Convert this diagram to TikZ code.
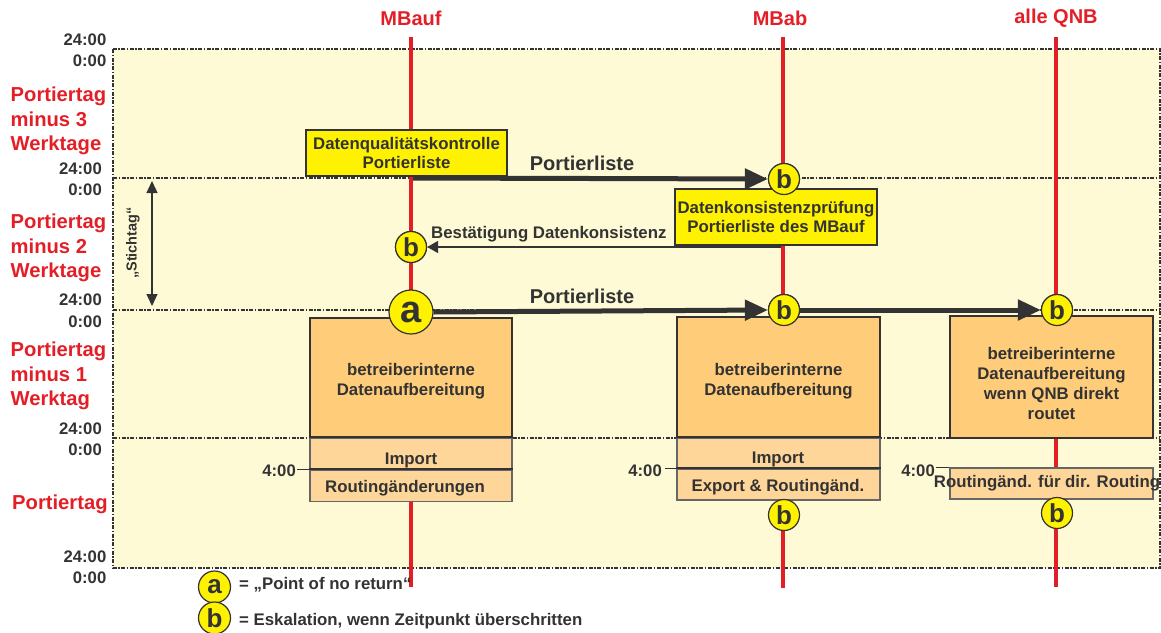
\documentclass[tikz,border=0pt]{standalone}
\usepackage{fontspec}
\setmainfont{Liberation Sans}
\usetikzlibrary{arrows.meta}
\definecolor{bgy}{RGB}{255,250,214}
\definecolor{yel}{RGB}{255,242,0}
\definecolor{orA}{RGB}{255,204,122}
\definecolor{orB}{RGB}{255,214,153}
\definecolor{rd}{RGB}{228,30,38}
\definecolor{dg}{RGB}{51,51,51}
\newcommand\myfs[2]{\fontsize{#1}{#2}\selectfont\bfseries}
\begin{document}
\begin{tikzpicture}[x=1pt,y=-1pt,
  band/.style={draw=dg,line width=1.3pt,dash pattern=on 4pt off 1.5pt on 1.5pt off 1.5pt},
  redl/.style={draw=rd,line width=4pt},
  ybox/.style={draw=dg,line width=1.3pt,fill=yel,inner sep=0pt,align=center,text=dg,font=\myfs{16.8}{19.5}},
  obox/.style={draw=dg,line width=1.3pt,fill=orA,inner sep=0pt},
  lbox/.style={draw=dg!75,line width=1.1pt,fill=orB,inner sep=0pt},
  txt/.style={text=dg,font=\myfs{16.8}{20.3},align=center,inner sep=0pt},
  tim/.style={text=dg,font=\myfs{16.7}{20},anchor=east,inner sep=0pt},
  rowl/.style={text=rd,font=\myfs{20.2}{24.5},anchor=west,align=left,inner sep=0pt},
  ttl/.style={text=rd,font=\myfs{20}{24},inner sep=0pt},
  bc/.style={circle,draw=dg,line width=1.2pt,fill=yel,minimum size=31pt,inner sep=0pt,text=dg,font=\myfs{26}{26}},
  ac/.style={circle,draw=dg,line width=1.2pt,fill=yel,minimum size=44pt,inner sep=0pt,text=dg,font=\myfs{38}{38}},
  big/.style={draw=dg,line width=5pt,-{Triangle[length=23pt,width=20pt]}},
  thinar/.style={draw=dg,line width=1.4pt,-{Triangle[length=11pt,width=12pt]}},
  sep/.style={draw=dg,line width=2pt}
]
\useasboundingbox (0,0) rectangle (1161,632);

% background band
\fill[bgy] (113,49) rectangle (1160,568);
\draw[band] (113,49) rectangle (1160,568);
\draw[band] (113,178) -- (1160,178);
\draw[band] (113,310) -- (1160,310);
\draw[band] (113,438) -- (1160,438);

% column titles
\node[ttl] (tA) at (411,18) {MBauf};
\node[ttl] (tB) at (780,18) {MBab};
\node[ttl] (tQ) at (1056,18) {alle QNB};

% red lines
\coordinate (rA1) at (411,37); \coordinate (rA2) at (411,587);
\coordinate (rB1) at (783,37); \coordinate (rB2) at (783,588);
\coordinate (rQ1) at (1056,37); \coordinate (rQ2) at (1056,587);
\draw[redl] (rA1) -- (rA2);
\draw[redl] (rB1) -- (rB2);
\draw[redl] (rQ1) -- (rQ2);

% time labels
\node[tim] (t1) at (106.5,40) {24:00};
\node[tim] (t2) at (106.5,61) {0:00};
\node[tim] (t3) at (102,169) {24:00};
\node[tim] (t4) at (102,190) {0:00};
\node[tim] (t5) at (102,300) {24:00};
\node[tim] (t6) at (102,322) {0:00};
\node[tim] (t7) at (102,429) {24:00};
\node[tim] (t8) at (102,450) {0:00};
\node[tim] (t9) at (106.5,557) {24:00};
\node[tim] (t10) at (106.5,578) {0:00};

% row labels
\node[rowl] (r1) at (10.5,121) {Portiertag\\minus 3\\Werktage};
\node[rowl] (r2) at (10.5,248) {Portiertag\\minus 2\\Werktage};
\node[rowl] (r3) at (10.5,376) {Portiertag\\minus 1\\Werktag};
\node[rowl] (r4) at (12,504) {Portiertag};

% Stichtag
\coordinate (st1) at (152,181); \coordinate (st2) at (152,306);
\draw[dg,line width=1.3pt,{Triangle[length=12pt,width=11pt]}-{Triangle[length=12pt,width=11pt]}] (st1) -- (st2);
\node[text=dg,font=\myfs{14.5}{16},rotate=90,inner sep=0pt] (stx) at (133,243) {„Stichtag“};

% circles positions (nodes drawn later, defined here as coordinates for arrows)
\node[bc] (bB1) at (784,179) {b};
\node[bc] (bA12) at (411,247) {b};
\node[bc] (bB2) at (784,310) {b};
\node[bc] (bQ) at (1057,310) {b};

% arrows
\coordinate (pA) at (413,178);
\draw[big] (pA) -- (bB1.west);
\node[text=dg,font=\myfs{20}{24},inner sep=0pt] (pl1) at (582,163) {Portierliste};

\coordinate (kB) at (781,247);
\draw[thinar] (kB) -- (bA12.east);
\node[text=dg,font=\myfs{16.8}{20},anchor=west,inner sep=0pt] (bl) at (431,234) {Bestätigung Datenkonsistenz};

% yellow boxes
\node[ybox,minimum width=201pt,minimum height=46pt] (yq) at (406.5,153) {Datenqualitätskontrolle\\Portierliste};
\node[ybox,minimum width=202pt,minimum height=56pt] (yk) at (776,217) {Datenkonsistenzprüfung\\Portierliste des MBauf};

% orange boxes
\node[obox,minimum width=202pt,minimum height=120pt] (oA) at (411,378) {};
\node[obox,minimum width=203pt,minimum height=121pt] (oB) at (778.5,377.5) {};
\node[obox,minimum width=203pt,minimum height=122pt] (oC) at (1051.5,377) {};
\node[txt] (oAt) at (411,381) {betreiberinterne\\Datenaufbereitung};
\node[txt] (oBt) at (778.5,381) {betreiberinterne\\Datenaufbereitung};
\node[txt] (oCt) at (1051.5,383.5) {betreiberinterne\\Datenaufbereitung\\wenn QNB direkt\\routet};

\node[lbox,minimum width=202pt,minimum height=32pt] (iA) at (411,454) {};
\node[lbox,minimum width=202pt,minimum height=31.5pt] (rA) at (411,485.75) {};
\node[lbox,minimum width=203pt,minimum height=31pt] (iB) at (778.5,453.5) {};
\node[lbox,minimum width=203pt,minimum height=31pt] (eB) at (778.5,484.5) {};
\node[lbox,minimum width=203pt,minimum height=31pt] (rC) at (1051.5,483.5) {};
\draw[sep] (iA.north west) -- (iA.north east);
\draw[sep] (rA.north west) -- (rA.north east);
\draw[sep] (iB.north west) -- (iB.north east);
\draw[sep] (eB.north west) -- (eB.north east);
\node[txt] (iAt) at (411,460) {Import};
\node[txt] (rAt) at (405,488) {Routingänderungen};
\node[txt] (iBt) at (778,459) {Import};
\node[txt] (eBt) at (778,487) {Export \& Routingänd.};
\node[txt] (rCt) at (1047,483) {Routingänd. für dir. Routing};

% 4:00 marks
\node[tim] (f1) at (296,471) {4:00};
\node[tim] (f2) at (662,471) {4:00};
\node[tim] (f3) at (935,471) {4:00};
\draw[dg,line width=1.1pt] (rA.north west) -- ++(-12,0);
\draw[dg,line width=1.1pt] (eB.north west) -- ++(-11,0);
\draw[dg,line width=1.1pt] (rC.north west) -- ++(-13,0);

% a circle and second Portierliste arrows
\node[ac] (aA) at (411,312) {a};
\draw[big] (aA.east) -- (bB2.west);
\draw[big] (bB2.east) -- (bQ.west);
\node[text=dg,font=\myfs{20}{24},inner sep=0pt] (pl2) at (582,296) {Portierliste};

% redraw circles on top
\node[bc] at (bB1) {b};
\node[bc] at (bA12) {b};
\node[bc] at (bB2) {b};
\node[bc] at (bQ) {b};
\node[bc] (bB3) at (784,515) {b};
\node[bc] (bQ3) at (1057,513) {b};

% legend
\node[bc,minimum size=32pt] (la) at (214.5,587) {a};
\node[bc,minimum size=32pt] (lb) at (214.5,618) {b};
\node[text=dg,font=\myfs{16.8}{20},anchor=west,inner sep=0pt] (lat) at (239,585) {= „Point of no return“};
\node[text=dg,font=\myfs{16.8}{20},anchor=west,inner sep=0pt] (lbt) at (239,621) {= Eskalation, wenn Zeitpunkt überschritten};
\end{tikzpicture}
\end{document}
